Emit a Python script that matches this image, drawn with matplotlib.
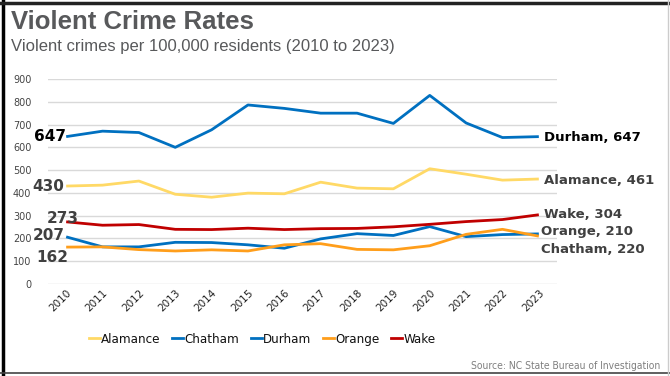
import matplotlib
matplotlib.use("Agg")
import matplotlib.pyplot as plt
from matplotlib.lines import Line2D

# data
years = list(range(2010, 2024))
alamance = [430, 434, 452, 394, 381, 399, 396, 447, 421, 418, 506, 482, 456, 461]
chatham = [207, 163, 163, 183, 182, 172, 157, 198, 221, 213, 252, 208, 217, 220]
durham = [647, 671, 665, 600, 677, 786, 771, 750, 750, 705, 828, 707, 643, 647]
orange = [162, 163, 151, 145, 150, 145, 172, 177, 152, 150, 168, 218, 240, 210]
wake = [273, 258, 261, 240, 239, 245, 239, 243, 244, 251, 262, 274, 283, 304]

names = ["Alamance", "Chatham", "Durham", "Orange", "Wake"]
colors = ["#FFD966", "#0070C0", "#0070C0", "#FF9E1B", "#C00000"]
series = [alamance, chatham, durham, orange, wake]
y_ticks = [0, 100, 200, 300, 400, 500, 600, 700, 800, 900]

W, H = 670, 376
fig = plt.figure(figsize=(W / 100, H / 100), dpi=100)
ax = fig.add_axes([48 / W, 1 - 284 / H, (557 - 48) / W, (284 - 79) / H])

for vals, c in zip(series, colors):
    ax.plot(years, vals, color=c, lw=2.0, clip_on=False, solid_capstyle="butt")

ax.set_xlim(2009.5, 2023.5)
ax.set_ylim(0, 900)
ax.set_yticks(y_ticks)
ax.set_xticks(years)
ax.set_xticklabels([str(y) for y in years], rotation=45, ha="right",
                   rotation_mode="anchor", fontsize=7.5, color="#222222")
ax.tick_params(axis="y", labelsize=7, labelcolor="#444444", length=0, pad=12)
ax.tick_params(axis="x", length=0, pad=3)
ax.grid(axis="y", color="#d9d9d9", lw=1)
ax.set_axisbelow(True)
for s in ax.spines.values():
    s.set_visible(False)

# start-value labels on the left
lab_kw = dict(fontsize=11, fontweight="bold", family="DejaVu Sans", ha="right", va="center")
ax.text(2010.0, 647, "647", color="black", **lab_kw)
ax.text(2009.95, 430, "430", color="#404040", **lab_kw)
ax.text(2010.35, 288, "273", color="#404040", **lab_kw)
ax.text(2009.95, 215, "207", color="#404040", **lab_kw)
ax.text(2010.05, 115, "162", color="#404040", **lab_kw)

# end labels on the right
end_kw = dict(fontsize=9.5, fontweight="bold", family="DejaVu Sans", ha="left", va="center")
ax.text(2023.15, 645, "Durham, 647", color="black", **end_kw)
ax.text(2023.15, 455, "Alamance, 461", color="#404040", **end_kw)
ax.text(2023.15, 304, "Wake, 304", color="#404040", **end_kw)
ax.text(2023.05, 230, "Orange, 210", color="#404040", **end_kw)
ax.text(2023.05, 152, "Chatham, 220", color="#404040", **end_kw)

# titles
fig.text(11 / W, 1 - 22 / H, "Violent Crime Rates", fontsize=18.5, fontweight="bold",
         color="#58595B", family="Liberation Sans", va="center")
fig.text(11 / W, 1 - 47 / H, "Violent crimes per 100,000 residents (2010 to 2023)",
         fontsize=12, color="#58595B", family="Liberation Sans", va="center")
fig.text(660 / W, 1 - 366 / H, "Source: NC State Bureau of Investigation",
         fontsize=7.4, color="#7f7f7f", family="DejaVu Sans", fontstretch="condensed",
         ha="right", va="center")

# legend, laid out by hand so the baselines line up
renderer = fig.canvas.get_renderer()
items = []
x = 0.0
for name, c in zip(names, colors):
    t = fig.text(0, 1 - 343 / H, name, fontsize=9.5, family="DejaVu Sans",
                 fontstretch="condensed", color="#111111", va="baseline", ha="left")
    w = t.get_window_extent(renderer).width
    items.append((x, t, c))
    x += 11 + 1 + w + 12
total = x - 12
x_start = 262 - total / 2
for x0, t, c in items:
    px = x_start + x0
    fig.add_artist(Line2D([px / W, (px + 11) / W], [1 - 338 / H, 1 - 338 / H], color=c, lw=2,
                          transform=fig.transFigure))
    t.set_x((px + 12) / W)

# outer frame
fig.add_artist(Line2D([3 / W, 3 / W], [0, 1], color="black", lw=2.5, transform=fig.transFigure))
fig.add_artist(Line2D([0, 1], [1 - 3 / H, 1 - 3 / H], color="#222222", lw=2.5, transform=fig.transFigure))
fig.add_artist(Line2D([0, 1], [1 - 373 / H, 1 - 373 / H], color="#444444", lw=1.2, transform=fig.transFigure))
fig.add_artist(Line2D([668 / W, 668 / W], [0, 1], color="#cccccc", lw=1, transform=fig.transFigure))

fig.savefig("out.png", dpi=100)
